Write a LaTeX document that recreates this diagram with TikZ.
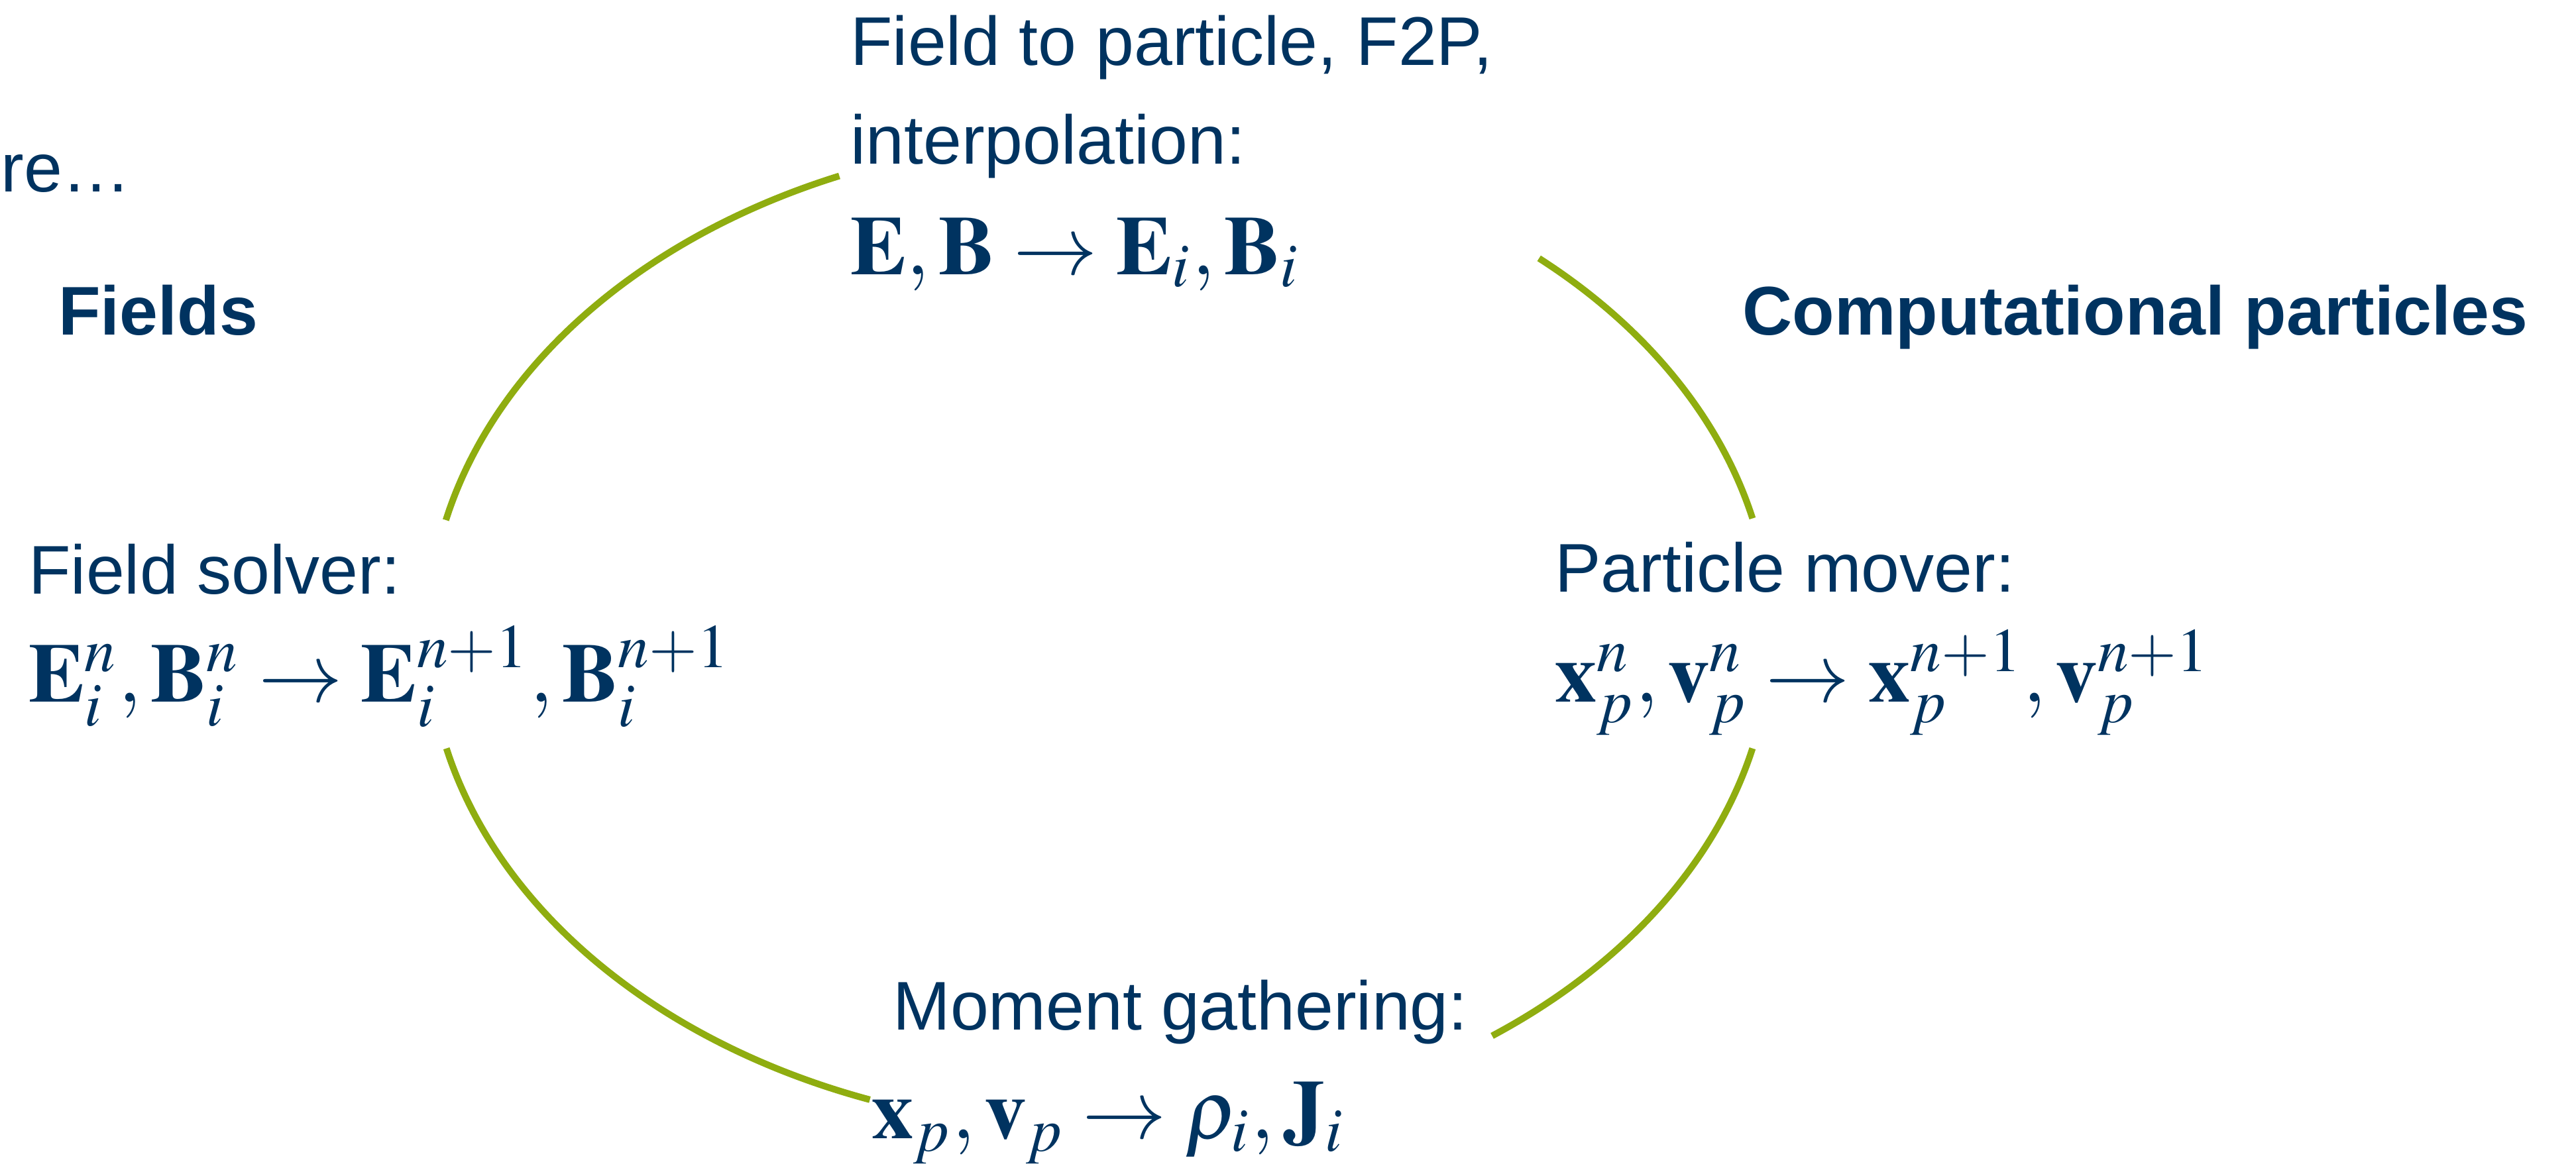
\documentclass[tikz,border=0pt]{standalone}
\usepackage{mathptmx}
\usepackage[no-math]{fontspec}
\setmainfont{Liberation Sans}
\usepackage{tikz}
\usetikzlibrary{positioning,calc}

\definecolor{textnavy}{RGB}{0,51,96}
\definecolor{cyclegreen}{RGB}{143,173,16}

\begin{document}
\begin{tikzpicture}[
  txt/.style={anchor=base west,inner sep=0pt,text=textnavy,font=\fontsize{14.8}{20.7}\selectfont},
  head/.style={txt,font=\fontsize{14.8}{20.7}\selectfont\bfseries},
  eq/.style={txt,font=\fontsize{18}{22}\selectfont},
  cyclearc/.style={draw=cyclegreen,line width=1.42pt}]
\useasboundingbox (0,0) rectangle (19.435,8.855);
% loop
\coordinate (c) at (8.295,4.075);
\foreach \sa/\ea in {166.8/112.8,49.1/13.4,-13.4/-54.2,250/193.4}
  {\draw[cyclearc] (c) ++(\sa:5.065cm and 3.745cm) arc[start angle=\sa,end angle=\ea,x radius=5.065cm,y radius=3.745cm];}
% headings
\node[txt] (more) at (0,7.405) {re…};
\node[head] (fields) at (0.435,6.33) {Fields};
\node[head] (particles) at (13.14,6.33) {Computational particles};
% field to particle
\node[txt] (f2p) at (6.41,8.36) {Field to particle, F2P,};
\node[txt] (interp) at (6.41,7.615) {interpolation:};
\node[eq] (f2peq) at (6.41,6.785) {$\mathbf{E},\mathbf{B}\to\mathbf{E}_i,\mathbf{B}_i$};
% field solver
\node[txt] (solver) at (0.21,4.375) {Field solver:};
\node[eq] (solvereq) at (0.21,3.56) {$\mathbf{E}_i^n,\mathbf{B}_i^n\to\mathbf{E}_i^{n+1},\mathbf{B}_i^{n+1}$};
% particle mover
\node[txt] (mover) at (11.725,4.39) {Particle mover:};
\node[eq] (movereq) at (11.725,3.56) {$\mathbf{x}_p^n,\mathbf{v}_p^n\to\mathbf{x}_p^{n+1},\mathbf{v}_p^{n+1}$};
% moment gathering
\node[txt] (gather) at (6.73,1.085) {Moment gathering:};
\node[eq] (gathereq) at (6.57,0.265) {$\mathbf{x}_p,\mathbf{v}_p\to\rho_i,\mathbf{J}_i$};
\end{tikzpicture}
\end{document}
